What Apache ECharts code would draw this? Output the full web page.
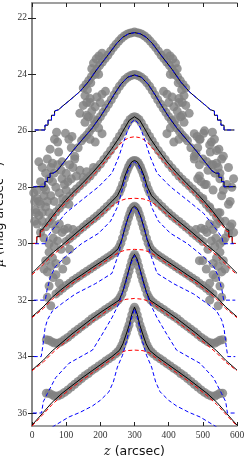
<!DOCTYPE html>
<html><head><meta charset="utf-8">
<script src="https://cdn.jsdelivr.net/npm/echarts@6/dist/echarts.min.js"></script>
<style>html,body{margin:0;padding:0;background:#fff}#c{width:245px;height:457px}</style>
</head><body><div id="c"></div>
<script>
// ---- tick labels ----
const xTicks = [0,100,200,300,400,500,600];
const yTicks = [22,24,26,28,30,32,34,36];

// ---- model profiles: total (black), thick disk (red dashed), thin disk (blue dashed) ----
const p1Total = [[8,25.97],[38,25.97],[38,25.8],[47,25.8],[47,25.62],[57,25.62],[57,25.45],[66,25.45],[66,25.3],[78,25.25],[90,25.12],[111,24.91],[140,24.61],[165,24.26],[189,23.84],[219,23.37],[248,22.9],[266,22.68],[283,22.56],[300,22.52],[317,22.56],[334,22.68],[352,22.9],[381,23.37],[411,23.84],[435,24.26],[460,24.61],[489,24.91],[510,25.12],[522,25.25],[534,25.3],[534,25.45],[543,25.45],[543,25.62],[553,25.62],[553,25.8],[562,25.8],[562,25.97],[592,25.97]];
const p1Thin = p1Total;

const p2Total = [[4,27.98],[38,27.98],[38,27.8],[45,27.8],[45,27.65],[53,27.65],[53,27.5],[62,27.5],[73,27.42],[98,27.04],[120,26.7],[146,26.33],[175,25.92],[200,25.5],[220,25.12],[240,24.72],[260,24.35],[280,24.1],[300,24.02],[320,24.1],[340,24.35],[360,24.72],[380,25.12],[400,25.5],[425,25.92],[454,26.33],[480,26.7],[502,27.04],[527,27.42],[538,27.5],[547,27.5],[547,27.65],[555,27.65],[555,27.8],[562,27.8],[562,27.98],[596,27.98]];
const p2Thin = p2Total;

const p3Total = [[4,29.99],[14,29.99],[14,29.75],[24,29.75],[24,29.52],[30,29.5],[49,29.2],[73,28.82],[98,28.47],[117,28.22],[146,27.88],[176,27.5],[205,27.1],[234,26.62],[255,26.25],[270,25.93],[285,25.62],[300,25.5],[315,25.62],[330,25.93],[345,26.25],[366,26.62],[395,27.1],[424,27.5],[454,27.88],[483,28.22],[502,28.47],[527,28.82],[551,29.2],[570,29.5],[576,29.52],[576,29.75],[586,29.75],[586,29.99],[596,29.99]];
const p3Thick = [[4,29.99],[14,29.99],[14,29.77],[24,29.77],[24,29.58],[30,29.56],[49,29.27],[73,28.9],[98,28.56],[117,28.32],[146,27.98],[176,27.62],[205,27.22],[234,26.8],[255,26.5],[270,26.33],[285,26.24],[300,26.21],[315,26.24],[330,26.33],[345,26.5],[366,26.8],[395,27.22],[424,27.62],[454,27.98],[483,28.32],[502,28.56],[527,28.9],[551,29.27],[570,29.56],[576,29.58],[576,29.77],[586,29.77],[586,29.99],[596,29.99]];
const p3Thin = [[9,30.0],[40,30.0],[44,29.78],[59,29.52],[98,28.92],[146,28.45],[195,27.98],[234,27.5],[254,26.92],[268,26.4],[280,25.98],[290,25.72],[300,25.6],[310,25.72],[320,25.98],[332,26.4],[346,26.92],[366,27.5],[405,27.98],[454,28.45],[502,28.92],[541,29.52],[556,29.78],[560,30.0],[591,30.0]];

const p4Total = [[0,31.05],[29,30.7],[59,30.34],[88,30.05],[117,29.75],[146,29.45],[176,29.16],[205,28.85],[234,28.5],[250,28.3],[262,28.0],[272,27.6],[282,27.3],[292,27.1],[300,27.05],[308,27.1],[318,27.3],[328,27.6],[338,28.0],[350,28.3],[366,28.5],[395,28.85],[424,29.16],[454,29.45],[483,29.75],[512,30.05],[541,30.34],[571,30.7],[600,31.05]];
const p4Thick = [[0,31.1],[29,30.78],[59,30.42],[88,30.13],[117,29.84],[146,29.55],[176,29.26],[205,28.96],[234,28.66],[255,28.49],[275,28.41],[300,28.39],[325,28.41],[345,28.49],[366,28.66],[395,28.96],[424,29.26],[454,29.55],[483,29.84],[512,30.13],[541,30.42],[571,30.78],[600,31.1]];
const p4Thin = [[5,32.0],[39,32.0],[44,31.64],[54,31.17],[68,30.82],[98,30.46],[146,29.99],[195,29.63],[230,29.2],[250,28.7],[265,28.05],[278,27.5],[290,27.2],[300,27.1],[310,27.2],[322,27.5],[335,28.05],[350,28.7],[370,29.2],[405,29.63],[454,29.99],[502,30.46],[532,30.82],[546,31.17],[556,31.64],[561,32.0],[595,32.0]];

const p5Total = [[0,32.59],[33,32.24],[59,31.9],[88,31.6],[117,31.33],[146,31.1],[176,30.85],[205,30.62],[234,30.38],[252,30.18],[263,29.85],[273,29.4],[283,29.0],[292,28.75],[300,28.67],[308,28.75],[317,29.0],[327,29.4],[337,29.85],[348,30.18],[366,30.38],[395,30.62],[424,30.85],[454,31.1],[483,31.33],[512,31.6],[541,31.9],[567,32.24],[600,32.59]];
const p5Thick = [[0,32.62],[33,32.3],[59,31.97],[88,31.68],[117,31.41],[146,31.18],[176,30.94],[205,30.7],[234,30.46],[255,30.3],[275,30.22],[300,30.2],[325,30.22],[345,30.3],[366,30.46],[395,30.7],[424,30.94],[454,31.18],[483,31.41],[512,31.68],[541,31.97],[567,32.3],[600,32.62]];
const p5Thin = [[5,34.0],[27,34.0],[32,33.6],[38,33.0],[45,32.7],[60,32.38],[90,32.1],[127,31.78],[185,31.42],[234,31.05],[254,30.34],[268,29.6],[280,29.1],[292,28.8],[300,28.72],[308,28.8],[320,29.1],[332,29.6],[346,30.34],[366,31.05],[415,31.42],[473,31.78],[510,32.1],[540,32.38],[555,32.7],[562,33.0],[568,33.6],[573,34.0],[595,34.0]];

const p6Total = [[0,34.48],[33,34.13],[59,33.8],[88,33.5],[117,33.2],[146,32.93],[176,32.65],[205,32.4],[234,32.17],[255,32.0],[265,31.72],[275,31.3],[284,30.9],[292,30.55],[300,30.38],[308,30.55],[316,30.9],[325,31.3],[335,31.72],[345,32.0],[366,32.17],[395,32.4],[424,32.65],[454,32.93],[483,33.2],[512,33.5],[541,33.8],[567,34.13],[600,34.48]];
const p6Thick = [[0,34.5],[33,34.2],[59,33.88],[88,33.58],[117,33.3],[146,33.03],[176,32.76],[205,32.5],[234,32.24],[255,32.06],[275,31.97],[300,31.94],[325,31.97],[345,32.06],[366,32.24],[395,32.5],[424,32.76],[454,33.03],[483,33.3],[512,33.58],[541,33.88],[567,34.2],[600,34.5]];
const p6Thin = [[3,36.0],[28,36.0],[33,35.6],[45,35.31],[69,34.75],[108,34.24],[177,33.77],[206,33.2],[235,32.6],[255,32.1],[274,31.4],[288,30.75],[300,30.42],[312,30.75],[326,31.4],[345,32.1],[365,32.6],[394,33.2],[423,33.77],[492,34.24],[531,34.75],[555,35.31],[567,35.6],[572,36.0],[597,36.0]];

const p7Total = [[0,36.43],[30,36.02],[59,35.62],[88,35.3],[117,35.03],[146,34.76],[176,34.5],[205,34.25],[234,34.0],[256,33.78],[266,33.55],[276,33.2],[284,32.9],[292,32.5],[300,32.25],[308,32.5],[316,32.9],[324,33.2],[334,33.55],[344,33.78],[366,34.0],[395,34.25],[424,34.5],[454,34.76],[483,35.03],[512,35.3],[541,35.62],[570,36.02],[600,36.43]];
const p7Thick = [[0,36.46],[30,36.08],[59,35.7],[88,35.38],[117,35.1],[146,34.84],[176,34.58],[205,34.33],[234,34.08],[255,33.88],[275,33.79],[300,33.77],[325,33.79],[345,33.88],[366,34.08],[395,34.33],[424,34.58],[454,34.84],[483,35.1],[512,35.38],[541,35.7],[570,36.08],[600,36.46]];
const p7Thin = [[59,36.5],[108,36.14],[140,35.98],[177,35.75],[200,35.55],[225,35.25],[238,34.9],[250,34.37],[265,33.95],[278,33.4],[290,32.7],[300,32.3],[310,32.7],[322,33.4],[335,33.95],[350,34.37],[362,34.9],[375,35.25],[400,35.55],[423,35.75],[460,35.98],[492,36.14],[541,36.5]];

// ---- observed surface brightness (grey points) ----
const p1Obs = [[150,24.48],[158,24.36],[166,24.22],[174,24.08],[182,23.95],[190,23.82],[198,23.68],[206,23.56],[214,23.44],[222,23.32],[230,23.18],[238,23.05],[246,22.93],[254,22.82],[262,22.72],[270,22.64],[278,22.58],[286,22.54],[293,22.52],[300,22.5],[307,22.52],[314,22.54],[322,22.58],[330,22.64],[338,22.72],[346,22.82],[354,22.93],[362,23.05],[370,23.18],[378,23.32],[386,23.44],[394,23.56],[402,23.68],[410,23.82],[418,23.95],[426,24.08],[434,24.22],[442,24.36],[450,24.48],
 [180,23.6],[188,23.45],[196,23.35],[205,23.25],[175,23.8],[185,24.0],[195,24.0],[172,24.3],[162,24.55],[155,24.75],[170,24.85],[160,25.0],
 [420,23.6],[412,23.45],[404,23.35],[395,23.25],[425,23.8],[415,24.0],[405,24.0],[428,24.3],[438,24.55],[445,24.75],[430,24.85],[440,25.0],
 [140,25.38],[160,25.45],[117,26.2],[98,26.09],[108,26.3],[66,26.3],[72,26.05],[75,26.4],[53,26.65],[78,26.75],[115,26.6],[125,26.9],
 [460,25.38],[440,25.45],[483,26.2],[502,26.09],[492,26.3],[534,26.3],[528,26.05],[525,26.4],[547,26.65],[522,26.75],[485,26.6],[475,26.9]];

const p2Obs = [[145,26.35],[152,26.25],[160,26.15],[168,26.03],[176,25.9],[184,25.77],[192,25.63],[200,25.5],[208,25.35],[216,25.2],[224,25.05],[232,24.9],[240,24.73],[248,24.57],[256,24.42],[264,24.3],[272,24.18],[280,24.1],[288,24.05],[294,24.02],[300,24.0],[306,24.02],[312,24.05],[320,24.1],[328,24.18],[336,24.3],[344,24.42],[352,24.57],[360,24.73],[368,24.9],[376,25.05],[384,25.2],[392,25.35],[400,25.5],[408,25.63],[416,25.77],[424,25.9],[432,26.03],[440,26.15],[448,26.25],[455,26.35],
 [150,25.1],[170,25.0],[175,25.3],[185,25.15],[190,24.8],[200,25.0],[205,24.7],[215,24.6],[165,25.5],[155,25.7],[180,25.6],[195,25.9],[205,26.1],[170,26.3],[185,26.4],
 [450,25.1],[430,25.0],[425,25.3],[415,25.15],[410,24.8],[400,25.0],[395,24.7],[385,24.6],[435,25.5],[445,25.7],[420,25.6],[405,25.9],[395,26.1],[430,26.3],[415,26.4],
 [88,27.1],[110,27.2],[125,27.0],[60,27.15],[135,26.6],[512,27.1],[490,27.2],[475,27.0],[540,27.15],[465,26.6]];

const p3Obs = [[50,29.2],[60,29.05],[70,28.88],[80,28.75],[90,28.6],[100,28.45],[110,28.32],[120,28.18],[130,28.06],[140,27.95],[150,27.83],[160,27.72],[170,27.6],[180,27.46],[190,27.32],[200,27.18],[210,27.02],[220,26.86],[230,26.7],[240,26.52],[248,26.36],[256,26.2],[264,26.05],[272,25.88],[280,25.72],[287,25.6],[294,25.53],[300,25.5],[306,25.53],[313,25.6],[320,25.72],[328,25.88],[336,26.05],[344,26.2],[352,26.36],[360,26.52],[370,26.7],[380,26.86],[390,27.02],[400,27.18],[410,27.32],[420,27.46],[430,27.6],[440,27.72],[450,27.83],[460,27.95],[470,28.06],[480,28.18],[490,28.32],[500,28.45],[510,28.6],[520,28.75],[530,28.88],[540,29.05],[550,29.2],
 [120,27.3],[140,27.4],[160,27.45],[180,27.3],[100,27.5],[88,27.7],[130,27.6],[150,27.65],
 [60,27.8],[70,28.0],[80,28.2],[65,28.5],[55,28.3],[100,28.1],[108,28.6],[90,28.4],
 [5,28.2],[15,28.4],[25,28.6],[35,28.3],[10,28.8],[20,29.0],[30,28.9],[40,28.7],[45,28.5],[30,29.2],
 [20,27.1],[30,27.3],[40,27.5],[25,27.8],[35,28.0],[15,28.1],[8,28.5],[12,28.9],[8,29.2],
 [45,27.0],[55,27.3],[65,27.5],[75,27.2],[85,27.4],[95,27.9],[105,27.8],[115,27.7],[50,27.7],[40,28.1],[20,28.5],[50,28.9],[60,29.3],[70,29.5],[80,29.3],[40,29.4],[25,29.6],[15,29.3],[35,29.8],[50,30.0],
 [475,26.1],[490,26.3],[505,26.0],[520,26.5],[540,26.7],[560,26.9],[480,26.8],[500,27.0],[530,27.2],[550,27.5],[575,27.3],[490,27.6],[510,27.9],[530,28.1],[555,28.3],[575,28.6],[585,28.0],[590,27.7],[500,28.4],[520,28.7],[545,28.9],[565,29.2],[580,29.4],[560,29.9],[590,29.6],
 [555,27.0],[545,27.3],[535,27.5],[525,27.2],[515,27.4],[505,27.9],[495,27.8],[485,27.7],[550,27.7],[560,28.1],[570,27.9],[580,28.5],[550,28.9],[540,29.3],[530,29.5],[520,29.3],[575,29.6],[585,29.3],[565,29.8],[550,30.0]];

const p4Obs = [[100,29.92],[110,29.82],[120,29.72],[130,29.62],[140,29.51],[150,29.41],[160,29.31],[170,29.21],[180,29.12],[190,29.02],[200,28.91],[210,28.8],[220,28.68],[230,28.56],[240,28.44],[248,28.33],[255,28.2],[260,28.06],[265,27.9],[270,27.7],[274,27.55],[278,27.42],[282,27.3],[286,27.2],[290,27.12],[295,27.07],[300,27.05],[305,27.07],[310,27.12],[314,27.2],[318,27.3],[322,27.42],[326,27.55],[330,27.7],[335,27.9],[340,28.06],[345,28.2],[352,28.33],[360,28.44],[370,28.56],[380,28.68],[390,28.8],[400,28.91],[410,29.02],[420,29.12],[430,29.21],[440,29.31],[450,29.41],[460,29.51],[470,29.62],[480,29.72],[490,29.82],[500,29.92],
 [88,29.6],[95,29.5],[105,29.45],[120,29.5],[75,29.9],[65,30.1],[60,30.5],[70,30.7],[55,30.8],[50,30.3],[45,31.0],[40,30.6],[35,30.9],[85,30.2],[110,30.2],[62,29.8],[90,30.9],[100,30.6],[50,31.5],[62,31.2],[45,31.9],[70,31.1],[80,31.4],[55,32.2],
 [512,29.6],[505,29.5],[495,29.45],[480,29.5],[525,29.9],[535,30.1],[540,30.5],[530,30.7],[545,30.8],[550,30.3],[555,31.0],[560,30.6],[565,30.9],[515,30.2],[490,30.6],[538,29.8],[510,30.9],[500,30.6],[550,31.5],[538,31.2],[555,31.9],[530,31.1],[520,31.4],[545,32.2],[520,32.0]];

const p5Obs = [[70,31.78],[80,31.68],[90,31.58],[100,31.48],[110,31.4],[120,31.3],[130,31.22],[140,31.14],[150,31.06],[160,30.98],[170,30.9],[180,30.82],[190,30.74],[200,30.66],[210,30.58],[220,30.5],[230,30.42],[240,30.33],[248,30.24],[255,30.12],[260,29.98],[265,29.8],[270,29.6],[274,29.43],[278,29.27],[282,29.1],[286,28.95],[290,28.82],[295,28.72],[300,28.67],[305,28.72],[310,28.82],[314,28.95],[318,29.1],[322,29.27],[326,29.43],[330,29.6],[335,29.8],[340,29.98],[345,30.12],[352,30.24],[360,30.33],[370,30.42],[380,30.5],[390,30.58],[400,30.66],[410,30.74],[420,30.82],[430,30.9],[440,30.98],[450,31.06],[460,31.14],[470,31.22],[480,31.3],[490,31.4],[500,31.48],[510,31.58],[520,31.68],[530,31.78]];

const p6Obs = [[42,33.4],[50,33.42],[58,33.48],[66,33.52],[75,33.53],[85,33.48],[95,33.4],[105,33.32],[115,33.22],[125,33.12],[135,33.03],[145,32.94],[155,32.85],[165,32.76],[175,32.66],[185,32.58],[195,32.5],[205,32.42],[215,32.33],[225,32.25],[235,32.17],[245,32.08],[252,32.0],[258,31.9],[263,31.78],[268,31.6],[272,31.45],[276,31.3],[280,31.14],[284,30.98],[288,30.8],[292,30.62],[296,30.47],[300,30.38],[304,30.47],[308,30.62],[312,30.8],[316,30.98],[320,31.14],[324,31.3],[328,31.45],[332,31.6],[337,31.78],[342,31.9],[348,32.0],[355,32.08],[365,32.17],[375,32.25],[385,32.33],[395,32.42],[405,32.5],[415,32.58],[425,32.66],[435,32.76],[445,32.85],[455,32.94],[465,33.03],[475,33.12],[485,33.22],[495,33.32],[505,33.4],[515,33.48],[525,33.52],[534,33.53],[542,33.48],[550,33.42],[558,33.4]];

const p7Obs = [[42,35.3],[50,35.3],[58,35.35],[66,35.4],[75,35.4],[85,35.35],[95,35.27],[105,35.18],[115,35.08],[125,34.98],[135,34.88],[145,34.78],[155,34.68],[165,34.6],[175,34.5],[185,34.42],[195,34.33],[205,34.25],[215,34.16],[225,34.08],[235,34.0],[245,33.9],[252,33.82],[258,33.72],[263,33.6],[268,33.45],[272,33.3],[276,33.17],[280,33.02],[284,32.88],[288,32.7],[292,32.52],[296,32.35],[300,32.25],[304,32.35],[308,32.52],[312,32.7],[316,32.88],[320,33.02],[324,33.17],[328,33.3],[332,33.45],[337,33.6],[342,33.72],[348,33.82],[355,33.9],[365,34.0],[375,34.08],[385,34.16],[395,34.25],[405,34.33],[415,34.42],[425,34.5],[435,34.6],[445,34.68],[455,34.78],[465,34.88],[475,34.98],[485,35.08],[495,35.18],[505,35.27],[515,35.35],[525,35.4],[535,35.4],[543,35.35],[550,35.3],[558,35.3]];

const observed = [p1Obs,p2Obs,p3Obs,p4Obs,p5Obs,p6Obs,p7Obs];
const totals = [p1Total,p2Total,p3Total,p4Total,p5Total,p6Total,p7Total];
const thicks = [p3Thick,p4Thick,p5Thick,p6Thick,p7Thick];
const thins = [p1Thin,p2Thin,p3Thin,p4Thin,p5Thin,p6Thin,p7Thin];

const series = [];
observed.forEach(d => series.push({type:'scatter', data:d, symbolSize:9, itemStyle:{color:'#808080'}, silent:true, z:1}));
function lineS(d, color, dashed){
  return {type:'line', data:d, symbol:'none', showSymbol:false, silent:true, z:3,
    lineStyle:{color, width:1, type: dashed ? [4,2.5] : 'solid'}};
}
totals.forEach(d => series.push(lineS(d,'#000000',false)));
thicks.forEach(d => series.push(lineS(d,'#ff0000',true)));
thins.forEach(d => series.push(lineS(d,'#0000ff',true)));

const frame = {show:true, lineStyle:{color:'#808080', width:1.5}};
const tickStyle = {show:true, inside:true, length:4, lineStyle:{color:'#222', width:1}};
const labelFont = {fontFamily:'Liberation Serif', fontSize:9.5, color:'#333'};

const chart = echarts.init(document.getElementById('c'), null, {renderer:'canvas'});
chart.setOption({
  animation:false,
  backgroundColor:'#ffffff',
  grid:{left:32, right:8, top:3, bottom:31, containLabel:false, outerBoundsMode:'none'},
  xAxis:[{type:'value', min:0, max:600, interval:100, position:'bottom',
      axisLine:frame, axisTick:tickStyle, splitLine:{show:false},
      axisLabel:Object.assign({margin:4, customValues:xTicks}, labelFont),
      name:'{i|z} (arcsec)', nameLocation:'middle', nameGap:16,
      nameTextStyle:{fontFamily:'DejaVu Sans', fontSize:12.5, color:'#111',
        rich:{i:{fontFamily:'DejaVu Serif', fontStyle:'italic', fontSize:12.5, color:'#111'}}}},
    {type:'value', min:0, max:600, interval:100, position:'top',
      axisLine:frame, axisTick:tickStyle, axisLabel:{show:false}, splitLine:{show:false}}],
  yAxis:[{type:'value', inverse:true, min:21.47, max:36.46, position:'left',
      axisLine:frame, axisTick:Object.assign({customValues:yTicks}, tickStyle), splitLine:{show:false},
      axisLabel:Object.assign({margin:5, customValues:yTicks}, labelFont),
      name:'{i|μ} (mag arcsec⁻²)', nameLocation:'middle', nameGap:18, nameRotate:90,
      nameTextStyle:{fontFamily:'DejaVu Sans', fontSize:12.5, color:'#111',
        rich:{i:{fontFamily:'DejaVu Serif', fontStyle:'italic', fontSize:12.5, color:'#111'}}}},
    {type:'value', inverse:true, min:21.47, max:36.46, position:'right',
      axisLine:frame, axisTick:Object.assign({customValues:yTicks}, tickStyle),
      axisLabel:{show:false}, splitLine:{show:false}}],
  series
});
</script></body></html>
